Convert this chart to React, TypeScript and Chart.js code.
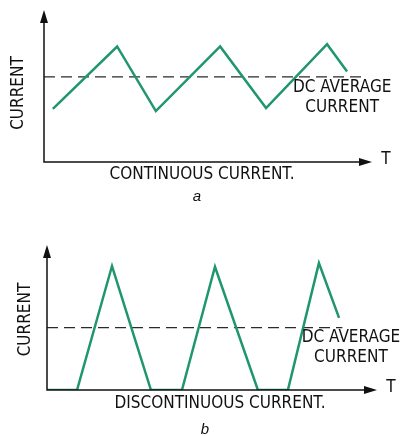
import React, { useEffect, useRef } from "react";
import { Chart, registerables } from "chart.js";

Chart.register(...registerables);

// ---- Data: continuous current (a) ----
const timeA = [0.27, 2.23, 3.41, 5.37, 6.77, 8.63, 9.24];
const currentA = [3.5, 7.6, 3.35, 7.6, 3.55, 7.75, 5.95];
const avgA = 5.6;
const avgEndA = 9.8;

// ---- Data: discontinuous current (b) ----
const timeB = [0, 0.91, 1.97, 3.15, 4.09, 5.09, 6.39, 7.3, 8.24, 8.85];
const currentB = [0, 0, 8.55, 0, 0, 8.5, 0, 0, 8.75, 4.97];
const avgB = 4.3;
const avgEndB = 8.95;

const yTitle = "CURRENT";
const xAxisName = "T";
const labelA = "CONTINUOUS CURRENT.";
const labelB = "DISCONTINUOUS CURRENT.";
const avgLabel = ["DC AVERAGE", "CURRENT"];
const captionA = "a";
const captionB = "b";

const GREEN = "#1f9670";
const INK = "#111111";
const FONT = '"Liberation Sans Narrow", "DejaVu Sans Condensed", "Roboto Condensed", sans-serif';

type Cfg = {
  times: number[];
  values: number[];
  avg: number;
  avgEnd: number;
  label: string;
  caption: string;
  padding: { left: number; right: number; top: number; bottom: number };
  avgLabelAt: { x: number; y: number };
  labelDy: number;
  captionDy: number;
  captionDx: number;
  labelDx: number;
  yTitleX: number;
  yTitleDy: number;
};

function narrowText(ctx: CanvasRenderingContext2D, text: string, x: number, y: number) {
  ctx.save();
  ctx.translate(x, y);
  ctx.scale(0.92, 1);
  ctx.fillText(text, 0, 0);
  ctx.restore();
}

function makeChart(canvas: HTMLCanvasElement, c: Cfg) {
  const overlay = {
    id: "diagram",
    afterDatasetsDraw(chart: any) {
      const { ctx, chartArea: a, scales } = chart;
      ctx.save();
      // axes
      ctx.strokeStyle = INK;
      ctx.fillStyle = INK;
      ctx.lineWidth = 1.5;
      ctx.beginPath();
      ctx.moveTo(a.left, a.top + 8);
      ctx.lineTo(a.left, a.bottom);
      ctx.lineTo(a.right - 8, a.bottom);
      ctx.stroke();
      // arrow heads
      ctx.beginPath();
      ctx.moveTo(a.left, a.top);
      ctx.lineTo(a.left - 4, a.top + 13);
      ctx.lineTo(a.left + 4, a.top + 13);
      ctx.closePath();
      ctx.fill();
      ctx.beginPath();
      ctx.moveTo(a.right, a.bottom);
      ctx.lineTo(a.right - 13, a.bottom - 4);
      ctx.lineTo(a.right - 13, a.bottom + 4);
      ctx.closePath();
      ctx.fill();

      ctx.textAlign = "center";
      ctx.textBaseline = "middle";
      ctx.font = `18.5px ${FONT}`;
      // T
      narrowText(ctx, xAxisName, a.right + 14, a.bottom - 3);
      // x label
      const cx = (a.left + a.right) / 2;
      narrowText(ctx, c.label, cx + c.labelDx, a.bottom + c.labelDy);
      // avg label
      const ax = scales.x.getPixelForValue(c.avgLabelAt.x);
      const ay = scales.y.getPixelForValue(c.avgLabelAt.y);
      narrowText(ctx, avgLabel[0], ax, ay);
      narrowText(ctx, avgLabel[1], ax, ay + 20);
      // y title
      ctx.save();
      ctx.translate(c.yTitleX, (a.top + a.bottom) / 2 + c.yTitleDy);
      ctx.rotate(-Math.PI / 2);
      ctx.scale(0.92, 1);
      ctx.fillText(yTitle, 0, 0);
      ctx.restore();
      // caption
      ctx.font = `italic 15px "Liberation Sans", Arial, sans-serif`;
      ctx.fillText(c.caption, cx + c.captionDx, a.bottom + c.captionDy);
      ctx.restore();
    },
  };

  return new Chart(canvas, {
    type: "line",
    data: {
      datasets: [
        {
          data: c.times.map((t, i) => ({ x: t, y: c.values[i] })),
          borderColor: GREEN,
          borderWidth: 2.5,
          pointRadius: 0,
          tension: 0,
        },
        {
          data: [
            { x: 0, y: c.avg },
            { x: c.avgEnd, y: c.avg },
          ],
          borderColor: "#2a2a2a",
          borderWidth: 1.4,
          borderDash: [11, 6],
          pointRadius: 0,
        },
      ],
    },
    options: {
      animation: false,
      responsive: false,
      layout: { padding: c.padding },
      scales: {
        x: { type: "linear", min: 0, max: 10, display: false },
        y: { type: "linear", min: 0, max: 10, display: false },
      },
      plugins: { legend: { display: false }, tooltip: { enabled: false } },
    },
    plugins: [overlay],
  });
}

export default function App() {
  const topRef = useRef<HTMLCanvasElement>(null);
  const botRef = useRef<HTMLCanvasElement>(null);

  useEffect(() => {
    const a = makeChart(topRef.current!, {
      times: timeA,
      values: currentA,
      avg: avgA,
      avgEnd: avgEndA,
      label: labelA,
      caption: captionA,
      padding: { left: 44, right: 31, top: 10, bottom: 56 },
      avgLabelAt: { x: 9.09, y: 4.93 },
      labelDy: 12,
      labelDx: -6,
      captionDy: 35,
      captionDx: -11,
      yTitleX: 18,
      yTitleDy: 7,
    });
    const b = makeChart(botRef.current!, {
      times: timeB,
      values: currentB,
      avg: avgB,
      avgEnd: avgEndB,
      label: labelB,
      caption: captionB,
      padding: { left: 47, right: 26, top: 27, bottom: 46 },
      avgLabelAt: { x: 9.21, y: 3.66 },
      labelDy: 13,
      labelDx: 8,
      captionDy: 40,
      captionDx: -7,
      yTitleX: 25,
      yTitleDy: 2,
    });
    return () => {
      a.destroy();
      b.destroy();
    };
  }, []);

  return (
    <div style={{ position: "absolute", left: 0, top: 0, width: 403, height: 436, background: "#fff" }}>
      <canvas ref={topRef} width={403} height={218} style={{ display: "block" }} />
      <canvas ref={botRef} width={403} height={218} style={{ display: "block" }} />
    </div>
  );
}
